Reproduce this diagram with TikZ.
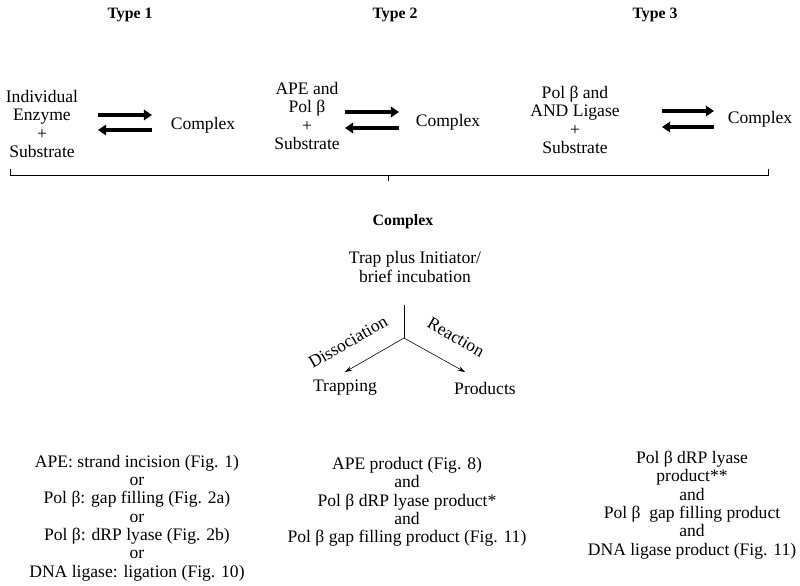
\documentclass[tikz,border=0pt]{standalone}
\usepackage{fontspec}
\setmainfont{Liberation Serif}
\usetikzlibrary{arrows.meta}

\begin{document}
\begin{tikzpicture}[x=0.03cm,y=-0.03cm,
    txt/.style={align=center,inner sep=0pt,font=\fontsize{15}{15.7}\selectfont},
    head/.style={inner sep=0pt,font=\bfseries\fontsize{13.5}{15}\selectfont},
    eqarrow/.style={line width=3.8pt,-{Triangle[length=7pt,width=9pt]}},
    path/.style={line width=0.5pt,-{Stealth[length=6pt,width=4pt]}}]
    \useasboundingbox (0,0) rectangle (800,586);

    % the three types
    \node (type1) at (130, 15) [head] {Type 1};
    \node (type2) at (395, 15) [head] {Type 2};
    \node (type3) at (655, 15) [head] {Type 3};

    \node (sub1) at ( 42, 124) [txt] {Individual\\Enzyme\\+\\Substrate};
    \node (cpx1) at (203, 125) [txt] {Complex};
    \coordinate (a1) at ( 98, 115);  \coordinate (b1) at (152, 115);
    \coordinate (c1) at (152, 130);  \coordinate (d1) at ( 98, 130);
    \draw[eqarrow] (a1) -- (b1);
    \draw[eqarrow] (c1) -- (d1);

    \node (sub2) at (307, 116) [txt] {APE and\\Pol β\\+\\Substrate};
    \node (cpx2) at (448, 122) [txt] {Complex};
    \coordinate (a2) at (345, 112);  \coordinate (b2) at (399, 112);
    \coordinate (c2) at (399, 128);  \coordinate (d2) at (345, 128);
    \draw[eqarrow] (a2) -- (b2);
    \draw[eqarrow] (c2) -- (d2);

    \node (sub3) at (575, 120) [txt] {Pol β and\\AND Ligase\\+\\Substrate};
    \node (cpx3) at (760, 119) [txt] {Complex};
    \coordinate (a3) at (662, 111);  \coordinate (b3) at (714, 111);
    \coordinate (c3) at (714, 127);  \coordinate (d3) at (662, 127);
    \draw[eqarrow] (a3) -- (b3);
    \draw[eqarrow] (c3) -- (d3);

    % brace
    \coordinate (bl) at ( 10, 175);  \coordinate (br) at (768, 175);
    \coordinate (bm) at (388, 175);
    \draw[line width=0.6pt] (10, 169) -- (bl) -- (br) -- (768, 169);
    \draw[line width=0.6pt] (bm) -- (388, 181);

    % complex and branches
    \node (cpx) at (403, 222) [head] {Complex};
    \node (trap) at (415, 267) [txt] {Trap plus Initiator/\\brief incubation};
    \coordinate (top) at (404, 305);
    \coordinate (fork) at (404, 338);
    \coordinate (lend) at (345, 372);
    \coordinate (rend) at (465, 372);
    \draw[line width=0.5pt] (top) -- (fork);
    \draw[path] (fork) -- (lend);
    \draw[path] (fork) -- (rend);
    \node (diss) at (348, 342) [txt,rotate=30] {Dissociation};
    \node (reac) at (456, 337) [txt,rotate=-30] {Reaction};
    \node (trapping) at (345, 388) [txt] {Trapping};
    \node (products) at (485, 388) [txt] {Products};

    % outcomes
    \node (out1) at (137, 518) [txt] {APE: strand incision (Fig. 1)\\or\\Pol β: gap filling (Fig. 2a)\\or\\Pol β: dRP lyase (Fig. 2b)\\or\\DNA ligase: ligation (Fig. 10)};
    \node (out2) at (407, 502) [txt] {APE product (Fig. 8)\\and\\Pol β dRP lyase product*\\and\\Pol β gap filling product (Fig. 11)};
    \node (out3) at (692, 505) [txt] {Pol β dRP lyase\\product**\\and\\Pol β~ gap filling product\\and\\DNA ligase product (Fig. 11)};
\end{tikzpicture}
\end{document}
